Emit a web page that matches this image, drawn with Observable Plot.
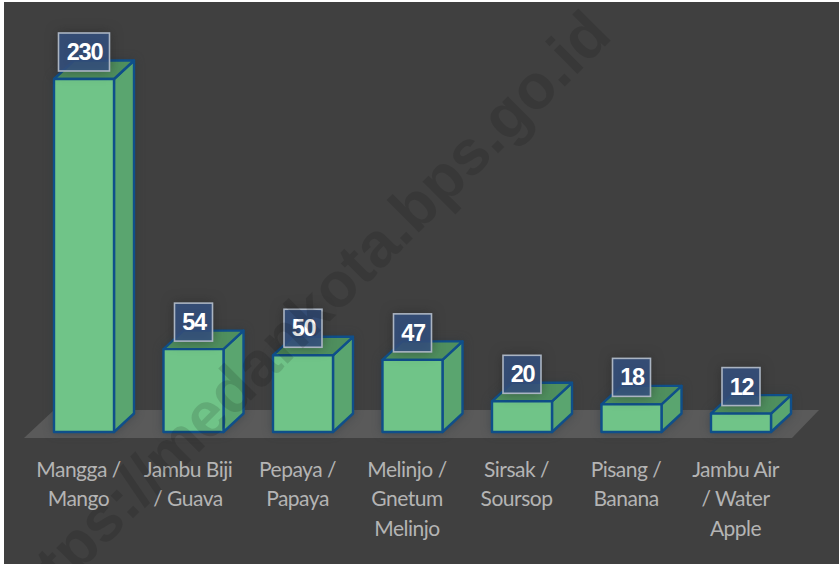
<!DOCTYPE html>
<html><head><meta charset="utf-8">
<script src="https://cdn.jsdelivr.net/npm/d3@7"></script>
<script src="https://cdn.jsdelivr.net/npm/@observablehq/plot@0.6"></script>
<style>
html,body{margin:0;padding:0;background:#fff;overflow:hidden}
svg{display:block;position:absolute;left:4px;top:2px}
g[aria-label="x-axis tick label"]{letter-spacing:-.5px}
</style></head><body>
<script>
const categories = ["Mangga /\nMango","Jambu Biji\n/ Guava","Pepaya /\nPapaya","Melinjo /\nGnetum\nMelinjo","Sirsak /\nSoursop","Pisang /\nBanana","Jambu Air\n/ Water\nApple"];
const values = [230,54,50,47,20,18,12];
const table = categories.map((c,i)=>({c,v:values[i]}));

const DX=20, DY=-18.5;
const NS="http://www.w3.org/2000/svg";
function el(tag,attrs){const e=document.createElementNS(NS,tag);for(const k in attrs)e.setAttribute(k,attrs[k]);return e;}

// Replace each rect drawn by the bar mark with an extruded box
function box3d(I,s,v,d,c,next){
  const g=next(I,s,v,d,c);
  for(const r of [...g.querySelectorAll("rect")]){
    const x=+r.getAttribute("x"),y=+r.getAttribute("y"),w=+r.getAttribute("width"),h=+r.getAttribute("height");
    const p=r.parentNode;
    const st={stroke:"#0f4f8a","stroke-width":2.4,"stroke-linejoin":"round"};
    p.insertBefore(el("path",{d:`M${x+w},${y}l${DX},${DY}v${h}l${-DX},${-DY}z`,fill:"#5aa56f",...st}),r);
    p.insertBefore(el("path",{d:`M${x},${y}l${DX},${DY}h${w}l${-DX},${-DY}z`,fill:"#4f8f5e",...st}),r);
    r.setAttribute("fill","#70c488");
    for(const k in st) r.setAttribute(k,st[k]);
  }
  g.style.filter="drop-shadow(0 0 5px rgba(40,50,60,.45))";
  return g;
}
// Label boxes sized from the digit count, centred above each box
function labelBoxes(I,s,v,d,c,next){
  const g=next(I,s,v,d,c);
  [...g.querySelectorAll("rect")].forEach((r,i)=>{
    const w=String(values[i]).length>2?51:38;
    const x=+r.getAttribute("x")+ +r.getAttribute("width")/2, y=+r.getAttribute("y");
    r.setAttribute("x",x-w/2); r.setAttribute("width",w);
    r.setAttribute("y",y-46); r.setAttribute("height",38);
    r.setAttribute("fill","#34507f"); r.setAttribute("fill-opacity",.86);
    r.setAttribute("stroke","#aab4c2"); r.setAttribute("stroke-width",1.6);
  });
  g.style.filter="drop-shadow(0 0 6px rgba(30,30,30,.5))";
  return g;
}
// Floor plane derived from the scales
function floor(I,s,v,d){
  const g=el("g",{});
  const y0=s.y(0), l=s.x(categories[0]), r=s.x(categories[6])+s.x.bandwidth();
  g.appendChild(el("path",{d:`M${l-30},${y0+6}L${l},${y0-22}H${r+48}L${r+21},${y0+6}z`,fill:"#5a5a5a"}));
  return g;
}
const spaced=ls=>(I,s,v,d,c,next)=>{const g=next(I,s,v,d,c);g.style.letterSpacing=ls;return g;};

const chart = Plot.plot({
  width:835, height:562,
  marginLeft:25.25, marginRight:43.25, marginTop:0, marginBottom:132,
  style:{background:"#404040",overflow:"hidden"},
  x:{domain:categories,paddingInner:0.452,paddingOuter:0.226,align:0.5,round:false,label:null},
  y:{domain:[0,230],range:[430,77],label:null,axis:null},
  marks:[
    floor,
    Plot.barY(table,{x:"c",y:"v",render:box3d}),
    Plot.barY(table,{x:"c",y:"v",render:labelBoxes}),
    Plot.text(table,{x:"c",y:"v",text:d=>String(d.v),dy:-27,fill:"#fff",fontSize:23.5,fontWeight:"bold",fontFamily:"Liberation Sans",render:spaced("-1.2px")}),
    Plot.axisX({anchor:"bottom",tickSize:0,tickPadding:23,dx:-6,label:null,lineHeight:1.42,lineAnchor:"top",tickFormat:d=>d,fill:"#b4b4b4",fontSize:21,fontFamily:"Lato",textOverflow:null}),
    Plot.text(["https://medankota.bps.go.id"],{frameAnchor:"top-left",dx:584,dy:35,textAnchor:"end",lineAnchor:"bottom",rotate:-45,fill:"#000",fillOpacity:.125,fontSize:63,fontWeight:"bold",fontFamily:"Liberation Sans"})
  ]
});
document.body.appendChild(chart);
</script></body></html>
